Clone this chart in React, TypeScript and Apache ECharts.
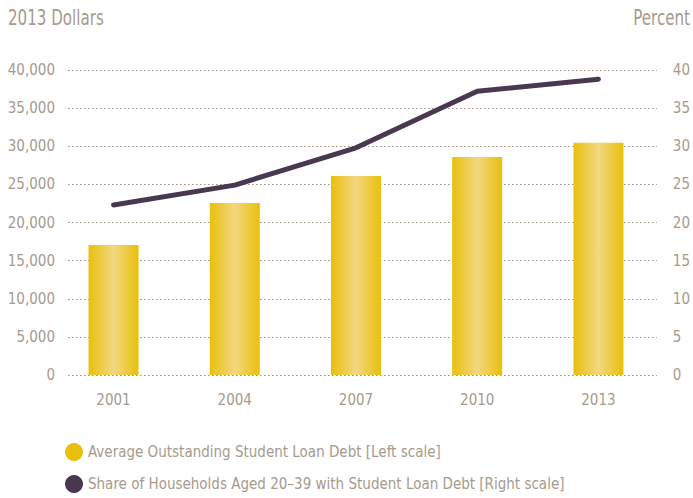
import React, { useEffect, useRef } from "react";
import * as echarts from "echarts";

const years = [2001, 2004, 2007, 2010, 2013];
const avgDebt = [17050, 22550, 26100, 28600, 30450];
const shareHouseholds = [22.3, 24.9, 29.8, 37.2, 38.8];
const leftTicks = [0, 5000, 10000, 15000, 20000, 25000, 30000, 35000, 40000];

const TXT = "#a69a8d";
const FONT = "'DejaVu Sans Condensed', 'Liberation Sans Narrow', sans-serif";

export default function App() {
  const ref = useRef<HTMLDivElement>(null);
  useEffect(() => {
    if (!ref.current) return;
    const chart = echarts.init(ref.current, null, { renderer: "svg" });
    const barGrad = new echarts.graphic.LinearGradient(0, 0, 1, 0, [
      { offset: 0, color: "#e8c00c" },
      { offset: 0.5, color: "#f3d780" },
      { offset: 1, color: "#e8c00c" },
    ]);
    chart.setOption({
      animation: false,
      textStyle: { fontFamily: FONT, color: TXT },
      graphic: [
        { type: "text", x: 8, y: 7, scaleX: 0.8, style: { text: "2013 Dollars", fill: TXT, font: `21px ${FONT}` } },
        { type: "text", x: 690, y: 7, scaleX: 0.8, style: { text: "Percent", fill: TXT, font: `21px ${FONT}`, align: "right" } },
      ],
      legend: {
        orient: "vertical",
        left: 60,
        top: 438,
        itemWidth: 18,
        itemHeight: 18,
        itemGap: 14,
        icon: "circle",
        textStyle: { color: TXT, fontSize: 15, fontFamily: FONT },
        data: [
          { name: "Average Outstanding Student Loan Debt [Left scale]", itemStyle: { color: "#e8c00c" } },
          { name: "Share of Households Aged 20–39 with Student Loan Debt [Right scale]", itemStyle: { color: "#4a3850" } },
        ],
      },
      grid: { left: 68, right: 30, top: 70, bottom: 123 },
      xAxis: {
        type: "value",
        min: 1999.873,
        max: 2014.445,
        axisLine: { show: false },
        axisTick: { show: false },
        splitLine: { show: false },
        axisLabel: {
          customValues: years,
          color: TXT,
          fontSize: 15,
          fontFamily: FONT,
          margin: 17,
          formatter: (v: number) => String(Math.round(v)),
        },
      },
      yAxis: [
        {
          type: "value",
          min: 0,
          max: 40000,
          interval: 5000,
          axisLine: { show: false },
          axisTick: { show: false },
          axisLabel: {
            color: TXT,
            fontSize: 15,
            fontFamily: FONT,
            margin: 13,
            formatter: (v: number) => (leftTicks.includes(v) ? v.toLocaleString("en-US") : ""),
          },
          splitLine: { lineStyle: { color: "#9f9285", type: [1.5, 2.5], width: 1.2 } },
        },
        {
          type: "value",
          min: 0,
          max: 40,
          interval: 5,
          axisLine: { show: false },
          axisTick: { show: false },
          splitLine: { show: false },
          axisLabel: { color: TXT, fontSize: 15, fontFamily: FONT, margin: 16 },
        },
      ],
      series: [
        {
          name: "Average Outstanding Student Loan Debt [Left scale]",
          type: "bar",
          yAxisIndex: 0,
          barWidth: 50,
          itemStyle: { color: barGrad },
          data: years.map((y, i) => [y, avgDebt[i]]),
        },
        {
          name: "Share of Households Aged 20–39 with Student Loan Debt [Right scale]",
          type: "line",
          yAxisIndex: 1,
          symbol: "none",
          lineStyle: { color: "#4a3850", width: 5, cap: "round", join: "round" },
          itemStyle: { color: "#4a3850" },
          data: years.map((y, i) => [y, shareHouseholds[i]]),
        },
      ],
    });
    return () => chart.dispose();
  }, []);
  return <div ref={ref} style={{ width: 693, height: 498, position: "absolute", left: 0, top: 0 }} />;
}
